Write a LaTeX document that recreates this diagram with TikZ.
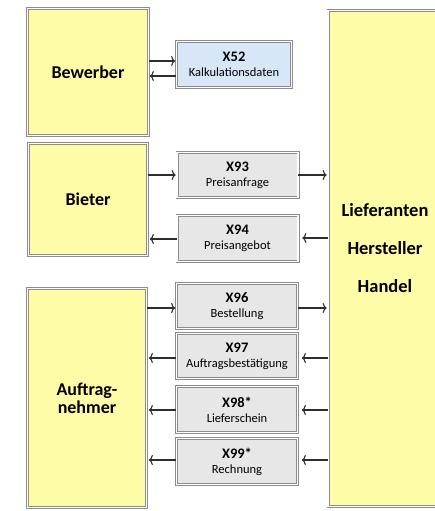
\documentclass[tikz,border=0pt]{standalone}
\usepackage{fontspec}
\setmainfont{Carlito}
\usetikzlibrary{arrows.meta}
\definecolor{yfill}{RGB}{255,252,168}
\definecolor{gfill}{RGB}{231,231,231}
\definecolor{bfill}{RGB}{216,231,248}
\definecolor{bline}{RGB}{140,140,140}
\definecolor{aline}{RGB}{45,45,45}
\tikzset{
  dbox/.style={rectangle, draw=bline, double=white, double distance=1.6pt, line width=0.7pt, inner sep=0pt, align=center},
  ybox/.style={dbox, fill=yfill, font=\fontsize{18}{20}\selectfont\bfseries},
  gbox/.style={dbox, fill=gfill, minimum width=121, font=\fontsize{12.5}{15}\selectfont},
  bbox/.style={dbox, fill=bfill, minimum width=115, font=\fontsize{12.5}{15}\selectfont},
  arr/.style={draw=aline, line width=1.1pt, -{To[length=4pt,width=10pt]}},
}
\newcommand{\code}[1]{{\fontsize{14.5}{16}\selectfont\bfseries #1}}
\begin{document}
\begin{tikzpicture}[x=1pt,y=-1pt]
\useasboundingbox (0,0) rectangle (435,511);
% left boxes
\node[ybox, minimum width=121, minimum height=127] (bew) at (88,72) {Bewerber};
\node[ybox, minimum width=119, minimum height=112] (bie) at (88,199.5) {Bieter};
\node[ybox, minimum width=119, minimum height=219] (auf) at (87,398) {Auftrag-\\[-2pt]nehmer};
% right box
\node[ybox, minimum width=117, minimum height=496] (lie) at (386.5,258.5) {};
\node[font=\fontsize{18.5}{38}\selectfont\bfseries, align=center] (lietext) at (385,248) {Lieferanten\\Hersteller\\Handel};
% middle boxes
\node[bbox, minimum height=46] (x52) at (234,64.5) {\code{X52}\\Kalkulationsdaten};
\node[gbox, minimum height=45] (x93) at (237.5,175) {\code{X93}\\Preisanfrage};
\node[gbox, minimum height=46] (x94) at (237.5,238.5) {\code{X94}\\Preisangebot};
\node[gbox, minimum height=45] (x96) at (237,306) {\code{X96}\\Bestellung};
\node[gbox, minimum height=45] (x97) at (237,356) {\code{X97}\\Auftragsbestätigung};
\node[gbox, minimum height=46] (x98) at (237,409.5) {\code{X98*}\\Lieferschein};
\node[gbox, minimum height=46] (x99) at (237,461.5) {\code{X99*}\\Rechnung};
% arrows
\draw[arr] (bew.east |- 0,61) -- ([xshift=-1pt]x52.west |- 0,61);
\draw[arr] (x52.west |- 0,76) -- ([xshift=1pt]bew.east |- 0,76);
\draw[arr] (bie.east |- 0,175) -- ([xshift=-1pt]x93.west |- 0,175);
\draw[arr] (x93.east |- 0,175) -- ([xshift=-1pt]lie.west |- 0,175);
\draw[arr] (lie.west |- 0,238) -- ([xshift=4pt]x94.east |- 0,238);
\draw[arr] (x94.west |- 0,239) -- ([xshift=2pt]bie.east |- 0,239);
\draw[arr] (auf.east |- 0,308) -- ([xshift=-1pt]x96.west |- 0,308);
\draw[arr] (x96.east |- 0,308) -- ([xshift=-1pt]lie.west |- 0,308);
\foreach \n/\y in {x97/358, x98/410, x99/460}{
  \draw[arr] (lie.west |- 0,\y) -- ([xshift=4pt]\n.east |- 0,\y);
  \draw[arr] (\n.west |- 0,\y) -- ([xshift=2pt]auf.east |- 0,\y);
}
\end{tikzpicture}
\end{document}
